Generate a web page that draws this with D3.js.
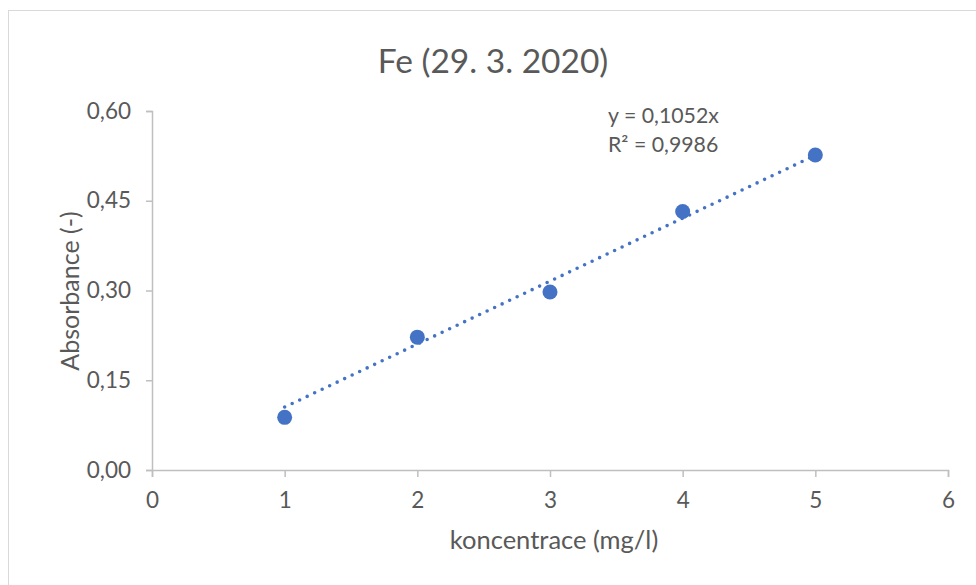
<!DOCTYPE html>
<html>
<head>
<meta charset="utf-8">
<script src="https://cdn.jsdelivr.net/npm/d3@7"></script>
<style>
  html, body { margin: 0; padding: 0; background: #fff; }
  svg { display: block; font-family: Lato, "Open Sans", sans-serif; }
</style>
</head>
<body>
<svg id="chart" width="976" height="585"></svg>
<script>
// ---- data ----
const concentrations = [1, 2, 3, 4, 5];
const absorbance = [0.088, 0.222, 0.2975, 0.432, 0.5265];
const xTicks = [0, 1, 2, 3, 4, 5, 6];
const yTicks = [0, 0.15, 0.30, 0.45, 0.60];
const trendSlope = 0.1052;
const trendRange = [1, 5];
const chartTitle = "Fe (29. 3. 2020)";
const xTitle = "koncentrace (mg/l)";
const yTitle = "Absorbance (-)";
const equationLines = ["y = 0,1052x", "R² = 0,9986"];

// ---- layout ----
const svg = d3.select("#chart");
const W = 976, H = 585;
const plot = { left: 152, right: 948, top: 111, bottom: 470 };
const axisColor = "#bfbfbf", textColor = "#595959", markColor = "#4472c4";

// outer border
svg.append("rect")
  .attr("x", 8.5).attr("y", 10.5)
  .attr("width", W).attr("height", H)
  .attr("fill", "#fff").attr("stroke", "#d9d9d9").attr("stroke-width", 1);

const x = d3.scaleLinear().domain([0, 6]).range([plot.left, plot.right]);
const y = d3.scaleLinear().domain([0, 0.6]).range([plot.bottom, plot.top]);

const fmtY = v => d3.format(".2f")(v).replace(".", ",");

// x axis
const gx = svg.append("g")
  .attr("transform", `translate(0,${plot.bottom})`)
  .call(d3.axisBottom(x).tickValues(xTicks).tickSize(7).tickPadding(15).tickFormat(d3.format("d")));
// y axis
const gy = svg.append("g")
  .attr("transform", `translate(${plot.left},0)`)
  .call(d3.axisLeft(y).tickValues(yTicks).tickSize(6).tickPadding(15).tickFormat(fmtY));

[gx, gy].forEach(g => {
  g.select(".domain").attr("stroke", axisColor).attr("stroke-width", 1.5);
  g.selectAll(".tick line").attr("stroke", axisColor).attr("stroke-width", 1.5);
  g.selectAll(".tick text").attr("fill", textColor).attr("font-size", 22.5)
    .attr("font-family", "Lato, sans-serif");
});

// trendline
const trend = trendRange.map(v => [v, trendSlope * v]);
svg.append("path")
  .datum(trend)
  .attr("d", d3.line().x(d => x(d[0])).y(d => y(d[1])))
  .attr("fill", "none")
  .attr("stroke", markColor)
  .attr("stroke-width", 3.6)
  .attr("stroke-linecap", "round")
  .attr("stroke-dasharray", "0 8.3");

// points
svg.append("g").selectAll("circle")
  .data(concentrations.map((c, i) => [c, absorbance[i]]))
  .join("circle")
  .attr("cx", d => x(d[0]))
  .attr("cy", d => y(d[1]))
  .attr("r", 7.5)
  .attr("fill", markColor);

// title
svg.append("text")
  .attr("x", 493).attr("y", 73)
  .attr("text-anchor", "middle")
  .attr("font-size", 33.5)
  .attr("fill", textColor)
  .text(chartTitle);

// axis titles
svg.append("text")
  .attr("x", 554).attr("y", 549)
  .attr("text-anchor", "middle")
  .attr("font-size", 25.5)
  .attr("fill", textColor)
  .text(xTitle);

svg.append("text")
  .attr("transform", "translate(79,291) rotate(-90)")
  .attr("text-anchor", "middle")
  .attr("font-size", 25)
  .attr("fill", textColor)
  .text(yTitle);

// equation
svg.append("g").selectAll("text")
  .data(equationLines)
  .join("text")
  .attr("x", 608)
  .attr("y", (d, i) => 123 + i * 29)
  .attr("font-size", 21.3)
  .attr("fill", textColor)
  .text(d => d);
</script>
</body>
</html>
